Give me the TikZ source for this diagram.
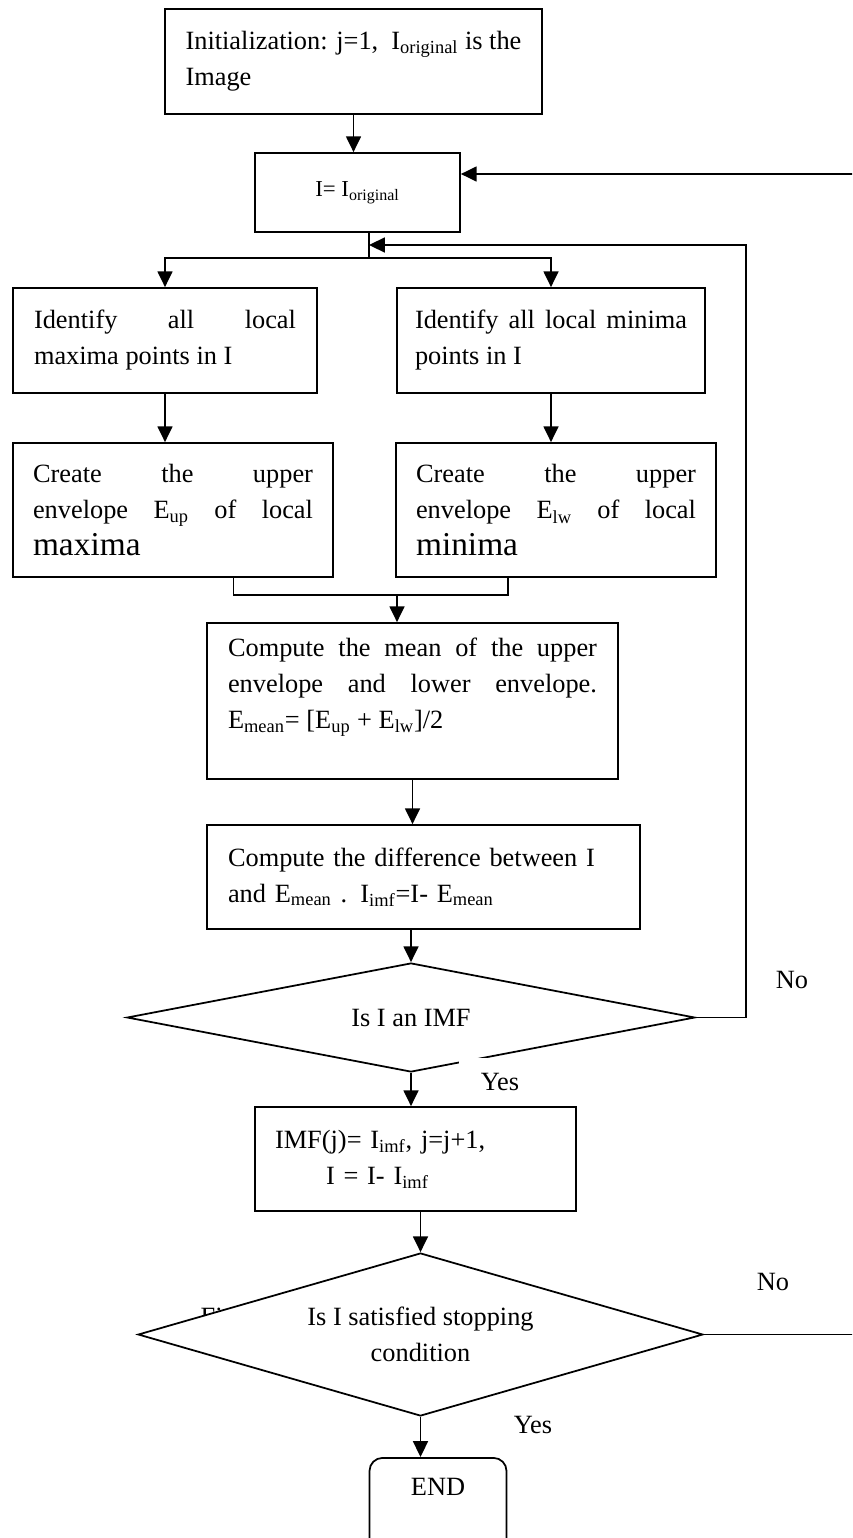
\documentclass[tikz,border=0pt]{standalone}
\usepackage{fontspec}
\setmainfont{Liberation Serif}
\usetikzlibrary{arrows.meta,shapes.geometric}
\newcommand{\mainsize}{\fontsize{15pt}{20.5pt}\selectfont}

\begin{document}
\begin{tikzpicture}[x=0.02cm,y=-0.02cm,line width=1pt,
    >={Triangle[length=9pt,width=8.5pt]},
    box/.style={draw,rectangle,font=\mainsize,inner xsep=0.4cm,inner ysep=0pt,align=justify},
    decision/.style={draw,diamond,fill=white,font=\mainsize,inner sep=1pt,align=center},
    answer/.style={font=\mainsize,inner sep=1pt}]
  \useasboundingbox (0,0) rectangle (852,1538);
  \clip (0,0) rectangle (852,1538);

  \node[box,align=left,minimum width=7.54cm,minimum height=2.1cm] (init) at (353.5,61.5)
    {Initialization: j=1,\ \ I\textsubscript{original} is the\\Image};
  \node[box,align=center,font=\fontsize{13pt}{18pt}\selectfont,minimum width=4.1cm,minimum height=1.58cm] (start) at (357.5,192.5)
    {I= I\textsubscript{original}};

  \node[box,minimum width=6.08cm,minimum height=2.1cm,text width=5.24cm,inner xsep=0.42cm] (maxpts) at (165,340.5)
    {Identify all local\linebreak maxima points in I};
  \node[box,minimum width=6.16cm,minimum height=2.1cm,text width=5.44cm,inner xsep=0.36cm] (minpts) at (551,340.5)
    {Identify all local minima\linebreak points in I};

  \node[box,minimum width=6.4cm,minimum height=2.68cm,text width=5.6cm] (upenv) at (173,510)
    {Create the upper\linebreak envelope E\textsubscript{up} of local\linebreak {\fontsize{19pt}{20.5pt}\selectfont maxima}};
  \node[box,minimum width=6.4cm,minimum height=2.68cm,text width=5.6cm] (lwenv) at (556,510)
    {Create the upper\linebreak envelope E\textsubscript{lw} of local\linebreak {\fontsize{19pt}{20.5pt}\selectfont minima}};

  \node[box,minimum width=8.22cm,minimum height=3.12cm,text width=7.38cm,inner xsep=0.42cm] (mean) at (412.5,701)
    {Compute the mean of the upper\linebreak envelope and lower envelope.\linebreak
     E\textsubscript{mean}= [E\textsubscript{up} + E\textsubscript{lw}]/2\par\mbox{}};
  \node[box,align=left,minimum width=8.66cm,minimum height=2.08cm,text width=7.82cm,inner xsep=0.42cm] (diff) at (423.5,877)
    {Compute the difference between I\\and E\textsubscript{mean} . I\textsubscript{imf}=I- E\textsubscript{mean}};

  \node[decision,aspect=5.2,minimum width=11.36cm,minimum height=2.18cm] (isimf) at (411,1017.5) {Is I an IMF};
  \node[answer] (no1) at (792,980) {No};
  \node[answer,fill=white,minimum width=1.64cm,minimum height=0.98cm] (yes1) at (500,1082) {Yes};

  \node[box,align=left,minimum width=6.42cm,minimum height=2.08cm,text width=5.62cm] (update) at (415.5,1159)
    {IMF(j)= I\textsubscript{imf}, j=j+1,\\\hspace*{1.02cm}I = I- I\textsubscript{imf}};

  \node[answer,anchor=base west] (figtag) at (198,1325) {Fig};
  \node[decision,aspect=3.47,minimum width=11.3cm,minimum height=3.26cm] (stop) at (420.5,1334.5)
    {Is I satisfied stopping\\condition};
  \node[answer] (no2) at (773,1282) {No};
  \node[answer] (yes2) at (533,1425) {Yes};

  \node[draw,rounded corners=0.26cm,font=\mainsize,minimum width=2.74cm,text height=10pt,text depth=26pt,
        inner ysep=11.5pt,anchor=north] (endbox) at (438,1457) {END};

  % main flow
  \draw[->] (init.south) -- (init.south |- start.north);
  \coordinate (split) at (369,258);
  \draw (split |- start.south) -- (split);
  \draw[->] (split) -| (maxpts.north);
  \draw[->] (split) -| (minpts.north);
  \draw[->] (maxpts.south) -- (maxpts.south |- upenv.north);
  \draw[->] (minpts.south) -- (minpts.south |- lwenv.north);
  \coordinate (merge) at (397,595);
  \draw ([xshift=1.21cm]upenv.south) |- (merge);
  \draw ([xshift=-0.96cm]lwenv.south) |- (merge);
  \draw[->] (merge) -- (merge |- mean.north);
  \draw[->] (mean.south) -- (mean.south |- diff.north);
  \draw[->] (diff.south -| isimf.north) -- (isimf.north);
  \draw[->] (isimf.south) -- (isimf.south |- update.north);
  \draw[->] (update.south -| stop.north) -- (stop.north);
  \draw[->] (stop.south) -- (stop.south |- endbox.north);

  % loops back
  \coordinate (loop) at (746,245);
  \draw[->] (isimf.east) -| (loop) -- (split |- loop);
  \coordinate (back) at (900,174);
  \draw[->] (stop.east) -| (back) -- (back -| start.east);
\end{tikzpicture}
\end{document}
